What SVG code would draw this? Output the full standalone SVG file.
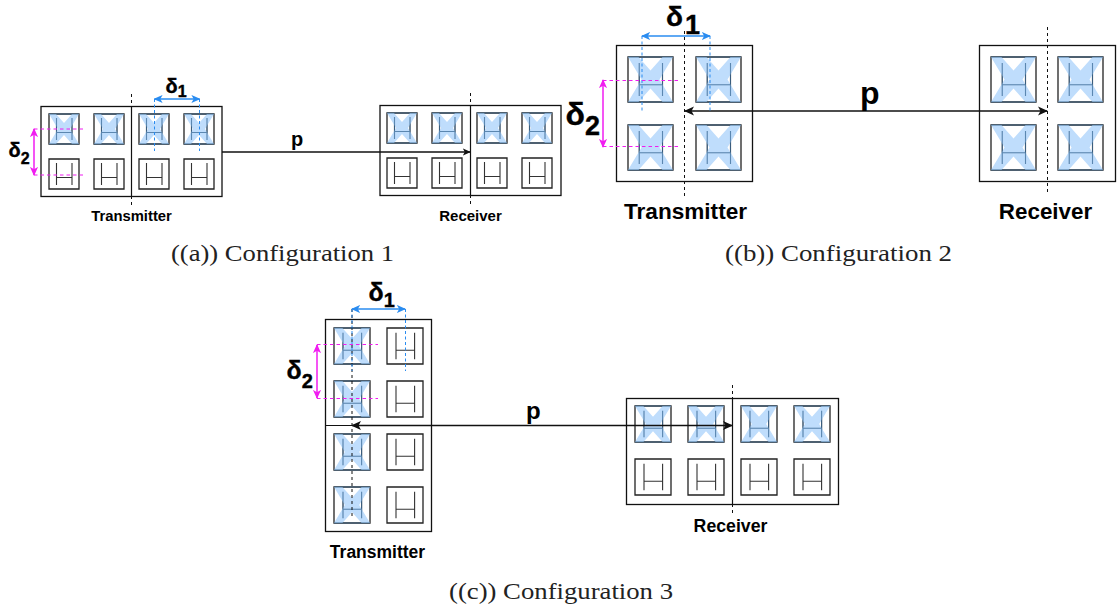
<svg xmlns="http://www.w3.org/2000/svg" width="1119" height="610" viewBox="0 0 1119 610">
<style>
text{font-family:"Liberation Sans",Arial,sans-serif;font-weight:bold;fill:#000}
.cap{font-family:"Liberation Serif","Times New Roman",serif;font-weight:normal;font-size:23px;fill:#222}
.sym{stroke:#000;stroke-width:.4}
.frame{fill:#fff;stroke:#111;stroke-width:1.3}
.sq{fill:#fff;stroke:#222;stroke-width:1.3;vector-effect:non-scaling-stroke}
.h{fill:none;stroke:#333;stroke-width:1.1;vector-effect:non-scaling-stroke}
.x{fill:#b4d7fb;fill-opacity:.85;stroke:none}
.tb{fill:none;stroke:#3d6f9c;stroke-width:1.1;vector-effect:non-scaling-stroke}
.axis{stroke:#111;stroke-width:1;stroke-dasharray:3 3;fill:none}
.solid{stroke:#111;stroke-width:1.2;fill:none}
.link{stroke:#111;stroke-width:1.3;fill:none}
.dim1{stroke:#2a8cf0;stroke-width:1.5;fill:none}
.dim2{stroke:#f01df0;stroke-width:1.5;fill:none}
.d1{stroke:#2a8cf0;stroke-width:1;stroke-dasharray:3 2.5;fill:none}
.d2{stroke:#f01df0;stroke-width:1;stroke-dasharray:3.5 3;fill:none}
</style>
<defs>
<g id="plain">
<rect class="sq" x="0" y="0" width="30" height="30"/>
<path class="h" d="M7.500 4V26M23 4V26M7.500 18.500H23"/>
</g>
<g id="blue">
<rect class="sq" x="0" y="0" width="30" height="30"/>
<path class="h" d="M7.500 4V26M23 4V26M7.500 18.500H23"/>
<path class="x" d="M0 0H7L15 9 23 0H30L21 15 30 30H23L15 21 7 30H0L9 15Z"/>
<path class="tb" d="M0 0H30M0 30H30M7.500 4V26M23 4V26M7.500 18.500H23" stroke-opacity=".7"/>
</g>
<marker id="ak" viewBox="0 0 10 10" refX="9" refY="5" markerWidth="8" markerHeight="8" markerUnits="userSpaceOnUse" orient="auto-start-reverse"><path d="M0 0.5L10 5 0 9.500 2.500 5Z" fill="#111"/></marker>
<marker id="ak2" viewBox="0 0 10 10" refX="9" refY="5" markerWidth="10" markerHeight="10" markerUnits="userSpaceOnUse" orient="auto-start-reverse"><path d="M0 0.5L10 5 0 9.500 2.500 5Z" fill="#111"/></marker>
<marker id="ab" viewBox="0 0 10 10" refX="9" refY="5" markerWidth="9" markerHeight="9" markerUnits="userSpaceOnUse" orient="auto-start-reverse"><path d="M0 0.5L10 5 0 9.500 2.500 5Z" fill="#2a8cf0"/></marker>
<marker id="am" viewBox="0 0 10 10" refX="9" refY="5" markerWidth="9" markerHeight="9" markerUnits="userSpaceOnUse" orient="auto-start-reverse"><path d="M0 0.5L10 5 0 9.500 2.500 5Z" fill="#f01df0"/></marker>
</defs>

<g id="config1-transmitter">
<rect class="frame" x="41" y="106.500" width="181" height="90"/>
<use href="#blue" x="49" y="114"/><use href="#blue" x="94" y="114"/><use href="#blue" x="139" y="114"/><use href="#blue" x="184" y="114"/>
<use href="#plain" x="49" y="159"/><use href="#plain" x="94" y="159"/><use href="#plain" x="139" y="159"/><use href="#plain" x="184" y="159"/>
<path class="solid" d="M131.500 106V196"/><path class="axis" d="M131.500 94V106M131.500 196V205"/>
<text x="131.500" y="220.500" font-size="14.800" text-anchor="middle">Transmitter</text>
</g>
<g id="config1-receiver">
<rect class="frame" x="380" y="105.500" width="181" height="90"/>
<use href="#blue" x="387" y="113"/><use href="#blue" x="432" y="113"/><use href="#blue" x="477" y="113"/><use href="#blue" x="522" y="113"/>
<use href="#plain" x="387" y="158"/><use href="#plain" x="432" y="158"/><use href="#plain" x="477" y="158"/><use href="#plain" x="522" y="158"/>
<path class="solid" d="M470.500 105V195"/><path class="axis" d="M470.500 93V105M470.500 195V207"/>
<text x="470.500" y="220.500" font-size="15" text-anchor="middle">Receiver</text>
</g>

<g id="config2-transmitter">
<rect class="frame" x="616.500" y="45.500" width="136" height="136"/>
<use href="#blue" transform="translate(628 57) scale(1.5)"/><use href="#blue" transform="translate(696 57) scale(1.5)"/>
<use href="#blue" transform="translate(628 125) scale(1.5)"/><use href="#blue" transform="translate(696 125) scale(1.5)"/>
<path class="axis" d="M684.500 31V198"/>
<text x="685.500" y="218.500" font-size="22.600" text-anchor="middle">Transmitter</text>
</g>
<g id="config2-receiver">
<rect class="frame" x="979.500" y="45.500" width="136" height="136"/>
<use href="#blue" transform="translate(991 57) scale(1.5)"/><use href="#blue" transform="translate(1058 57) scale(1.5)"/>
<use href="#blue" transform="translate(991 125) scale(1.5)"/><use href="#blue" transform="translate(1058 125) scale(1.5)"/>
<path class="axis" d="M1047.500 27V195"/>
<text x="1045.500" y="218.500" font-size="22.400" text-anchor="middle">Receiver</text>
</g>

<g id="config3-transmitter">
<rect class="frame" x="325.500" y="319.500" width="106" height="212"/>
<use href="#blue" transform="translate(334 328) scale(1.2)"/><use href="#plain" transform="translate(387 328) scale(1.2)"/>
<use href="#blue" transform="translate(334 381) scale(1.2)"/><use href="#plain" transform="translate(387 381) scale(1.2)"/>
<use href="#blue" transform="translate(334 434) scale(1.2)"/><use href="#plain" transform="translate(387 434) scale(1.2)"/>
<use href="#blue" transform="translate(334 487) scale(1.2)"/><use href="#plain" transform="translate(387 487) scale(1.2)"/>
<path class="solid" d="M325 425.500H432"/><path class="axis" d="M352 309V519"/>
<text x="377.500" y="558" font-size="17.500" text-anchor="middle">Transmitter</text>
</g>
<g id="config3-receiver">
<rect class="frame" x="626.500" y="398.500" width="212" height="106"/>
<use href="#blue" transform="translate(635 406) scale(1.2)"/><use href="#blue" transform="translate(688 406) scale(1.2)"/><use href="#blue" transform="translate(741 406) scale(1.2)"/><use href="#blue" transform="translate(794 406) scale(1.2)"/>
<use href="#plain" transform="translate(635 459) scale(1.2)"/><use href="#plain" transform="translate(688 459) scale(1.2)"/><use href="#plain" transform="translate(741 459) scale(1.2)"/><use href="#plain" transform="translate(794 459) scale(1.2)"/>
<path class="solid" d="M732.500 398V504"/><path class="axis" d="M732.500 385V398M732.500 504V516"/>
<text x="730.500" y="532" font-size="17.700" text-anchor="middle">Receiver</text>
</g>

<g id="connectors">
<path class="link" d="M222 152H470" marker-end="url(#ak)"/>
<path class="link" d="M685 111H1047" marker-start="url(#ak2)" marker-end="url(#ak2)"/>
<path class="link" d="M352 425.500H732" marker-start="url(#ak2)" marker-end="url(#ak2)"/>

<path class="dim1" d="M154.500 99H199.500" marker-start="url(#ab)" marker-end="url(#ab)"/>
<path class="d1" d="M154.500 99V151M199.500 99V151"/>
<path class="dim2" d="M34 129V175" marker-start="url(#am)" marker-end="url(#am)"/>
<path class="d2" d="M34 129H86M34 175H86"/>

<path class="dim1" d="M642 36H710" marker-start="url(#ab)" marker-end="url(#ab)"/>
<path class="d1" d="M642 36V112M710 36V112"/>
<path class="dim2" d="M603 80V147" marker-start="url(#am)" marker-end="url(#am)"/>
<path class="d2" d="M603 80.500H680M603 146.500H680"/>

<path class="dim1" d="M352 309H405" marker-start="url(#ab)" marker-end="url(#ab)"/>
<path class="d1" d="M352 309V371M405.500 309V371"/>
<path class="dim2" d="M317 345V398" marker-start="url(#am)" marker-end="url(#am)"/>
<path class="d2" d="M317 344.500H378M317 398.500H378"/>
</g>

<g id="labels">
<text class="sym" x="165.500" y="93" font-size="20">δ<tspan font-size="16" dy="4">1</tspan></text>
<text class="sym" x="8.500" y="157" font-size="20">δ<tspan font-size="16" dy="7">2</tspan></text>
<text x="291" y="146" font-size="20">p</text>
<text class="sym" x="666" y="26" font-size="28" stroke-width=".7">δ<tspan font-size="27" dx="2" dy="8">1</tspan></text>
<text class="sym" x="565.500" y="125" font-size="32">δ<tspan font-size="27" dy="10">2</tspan></text>
<text x="860" y="104" font-size="32">p</text>
<text class="sym" x="368.500" y="301" font-size="25">δ<tspan font-size="20" dy="6">1</tspan></text>
<text class="sym" x="286.500" y="379" font-size="25">δ<tspan font-size="20" dy="9">2</tspan></text>
<text x="526" y="419" font-size="24">p</text>
<text class="cap" x="171" y="261" textLength="223" lengthAdjust="spacingAndGlyphs">((a)) Configuration 1</text>
<text class="cap" x="725" y="261" textLength="227" lengthAdjust="spacingAndGlyphs">((b)) Configuration 2</text>
<text class="cap" x="449" y="599" textLength="224" lengthAdjust="spacingAndGlyphs">((c)) Configuration 3</text>
</g>
</svg>
